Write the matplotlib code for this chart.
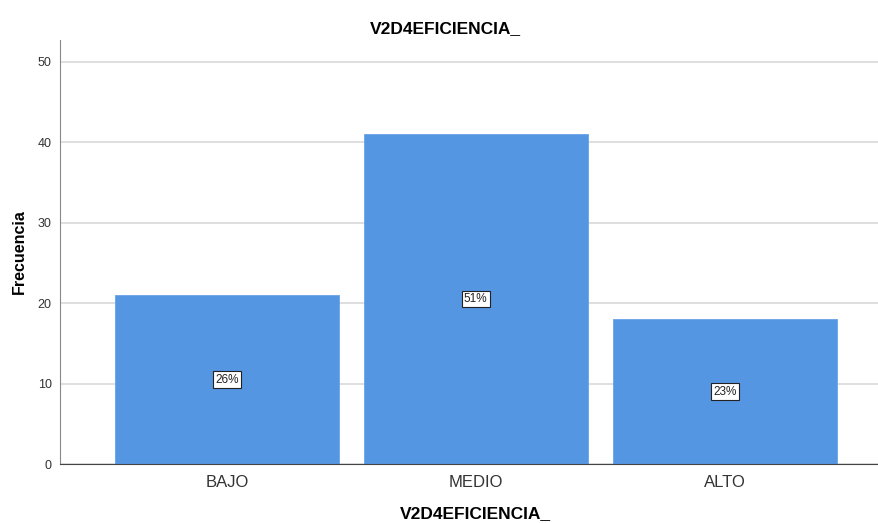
import matplotlib.pyplot as plt

categories = ["BAJO", "MEDIO", "ALTO"]
counts = [21, 41, 18]
pct_labels = ["26%", "51%", "23%"]

plt.rcParams['font.family'] = ['Liberation Sans', 'DejaVu Sans']

fig = plt.figure(figsize=(8.79, 5.23), dpi=100)
ax = fig.add_axes([0.0683, 0.1128, 0.9317, 0.8107])

x = range(len(categories))
bars = ax.bar(x, counts, width=0.9, color="#5596e3", edgecolor="#6aa3e8", linewidth=0.6, zorder=2)

for b, lab in zip(bars, pct_labels):
    ax.text(b.get_x() + b.get_width() / 2, b.get_height() / 2, lab,
            ha="center", va="center", fontsize=8.5, color="#222222", zorder=3,
            bbox=dict(boxstyle="square,pad=0.2", facecolor="white", edgecolor="#222222", linewidth=0.8))

ax.set_xlim(-0.67, 2.62)
ax.set_ylim(0, 52.7)
ax.set_yticks([0, 10, 20, 30, 40, 50])
ax.set_xticks(list(x))
ax.set_xticklabels(categories, fontsize=12, color="#333333")
ax.tick_params(axis="y", labelsize=9, colors="#333333", length=0, pad=6)
ax.tick_params(axis="x", length=0, pad=8)
ax.grid(axis="y", color="#d9d9d9", linewidth=1.2, zorder=0)
for s in ["top", "right"]:
    ax.spines[s].set_visible(False)
ax.spines["left"].set_color("#888888")
ax.spines["bottom"].set_color("#444444")

# SPSS places the titles relative to the whole figure
fig.text(0.507, 0.946, "V2D4EFICIENCIA_", ha="center", va="center",
         fontsize=12.5, fontweight="bold")
fig.text(0.541, 0.018, "V2D4EFICIENCIA_", ha="center", va="center",
         fontsize=12.5, fontweight="bold")
ax.set_ylabel("Frecuencia", fontsize=11.5, fontweight="bold")
ax.yaxis.set_label_coords(-0.04, 0.5)

fig.savefig("out.png")
